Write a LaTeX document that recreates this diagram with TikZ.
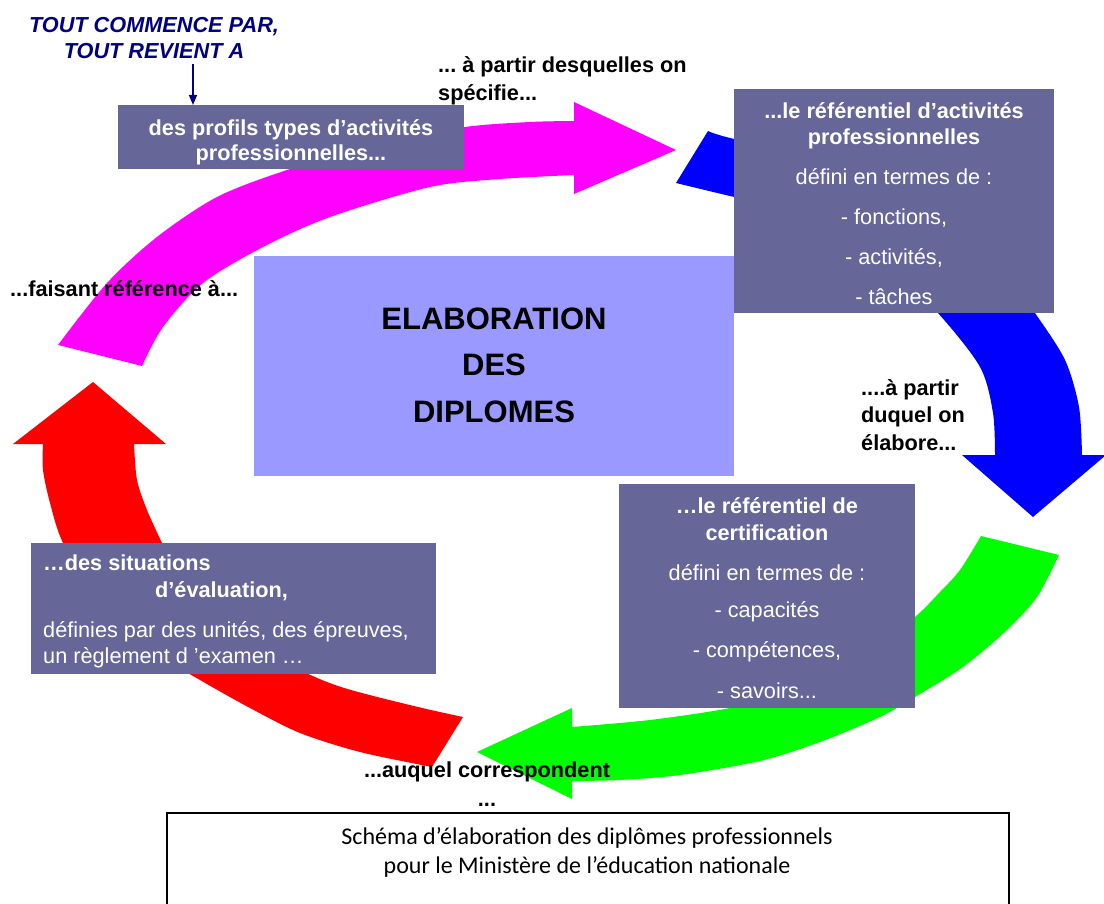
\documentclass[tikz,border=0pt]{standalone}
\usepackage{fontspec}
\setmainfont{Liberation Sans}
\newfontfamily\capfont{Carlito}
\usetikzlibrary{arrows.meta}
\definecolor{boxc}{HTML}{666699}
\definecolor{centc}{HTML}{9999FF}
\definecolor{navyc}{HTML}{000080}
\definecolor{magc}{HTML}{FF00FF}
\definecolor{bluec}{HTML}{0000FF}
\definecolor{greenc}{HTML}{00FF00}
\definecolor{redc}{HTML}{FF0000}
\frenchspacing
\begin{document}
\begin{tikzpicture}[x=1pt,y=-1pt,
  boxfill/.style={fill=boxc, inner sep=0pt, outer sep=0pt, anchor=north west},
  boxtxt/.style={text=white, inner sep=0pt, align=center, font=\fontsize{21.7}{26}\selectfont},
  lbl/.style={inner sep=0pt, font=\bfseries\fontsize{21.7}{27.5}\selectfont},
  navyarrow/.style={draw=navyc, line width=1.5pt, -{Triangle[length=10pt,width=8pt]}},
]
\useasboundingbox (0,0) rectangle (1104,904);

% magenta arrow
\fill[magc] plot[smooth] coordinates {(58,345) (107,283) (157,237) (217,197) (287,170) (380,143) (465,127) (530,122) (574,121)}
  -- (574,102) -- (676,150) -- (574,194) --
  plot[smooth] coordinates {(574,175) (500,179) (430,187) (330,217) (263,247) (203,283) (163,327) (142,366)} -- cycle;

% blue arrow
\fill[bluec] plot[smooth] coordinates {(708,131) (730,138) (830,162) (930,207) (995,258) (1035,313) (1065,360) (1079,407) (1082,455)}
  -- (1106,455) -- (1033,517) -- (962,455) --
  plot[smooth] coordinates {(995,455) (993,413) (980,367) (938,313) (880,255) (800,212) (730,196) (676,183)} -- cycle;

% green arrow
\fill[greenc] plot[smooth] coordinates {(1059,555) (1037,597) (1007,630) (963,667) (915,697) (880,717) (820,742) (760,761) (680,775) (620,780) (572,781)}
  -- (572,799) -- (477,752) -- (572,708) --
  plot[smooth] coordinates {(572,727) (650,720) (730,708) (800,690) (860,660) (915,617) (940,592) (960,570) (981,536)} -- cycle;

% red arrow
\fill[redc] plot[smooth] coordinates {(43,444) (43,470) (50,503) (63,543) (100,610) (150,650) (200,680) (250,708) (300,733) (360,752) (432,767)}
  -- (463,717) --
  plot[smooth] coordinates {(463,717) (418,707) (351,690) (315,677) (260,650) (210,610) (175,570) (162,543) (147,510) (137,480) (134,444)}
  -- (166,444) -- (93,382) -- (13,444) -- cycle;

% boxes
\node[boxfill, minimum width=346, minimum height=64] (b1) at (118,105) {};
\node[boxfill, minimum width=320, minimum height=224] (b2) at (734,89) {};
\node[fill=centc, inner sep=0pt, outer sep=0pt, anchor=north west, minimum width=480, minimum height=220] (cbox) at (254,256) {};
\node[boxfill, minimum width=296, minimum height=224] (b3) at (619,484) {};
\node[boxfill, minimum width=405, minimum height=131] (b4) at (31,543) {};

% box texts
\node[boxtxt, font=\bfseries\fontsize{21.7}{25}\selectfont] (t1) at (291,142) {des profils types d’activités\\professionnelles...};
\node[boxtxt] (t2) at (894,204) {\textbf{...le référentiel d’activités}\\\textbf{professionnelles}\\[14pt]défini en termes de :\\[14pt]- fonctions,\\[14pt]- activités,\\[14pt]- tâches};
\node[boxtxt, font=\fontsize{21.7}{27}\selectfont] (t3) at (767,598) {\textbf{…le référentiel de}\\\textbf{certification}\\[13pt]défini en termes de :\\[10pt]- capacités\\[13pt]- compétences,\\[14pt]- savoirs...};
\node[boxtxt, align=left, anchor=west, font=\fontsize{21.7}{27}\selectfont] (t4) at (43,611) {\textbf{…des situations}\\\hspace*{112pt}\textbf{d’évaluation,}\\[13pt]définies par des unités, des épreuves,\\[-1pt]un règlement d ’examen …};
\node[inner sep=0pt, align=center, font=\bfseries\fontsize{31}{46.5}\selectfont] (ctxt) at (494,365) {ELABORATION\\DES\\DIPLOMES};

% free labels
\node[lbl, text=navyc, align=center, font=\bfseries\itshape\fontsize{21.7}{26.5}\selectfont] (tout) at (154,38) {TOUT COMMENCE PAR,\\TOUT REVIENT A};
\coordinate (tarr) at (193,64);
\draw[navyarrow] (tarr) -- (tarr |- b1.north);
\node[lbl, align=left, anchor=west] (l1) at (438,81) {... à partir desquelles on\\spécifie...};
\node[lbl, anchor=west] (l2) at (10,289) {...faisant référence à...};
\node[lbl, align=left, anchor=west] (l3) at (861,415) {....à partir\\duquel on\\élabore...};
\node[lbl, align=center, font=\bfseries\fontsize{21.7}{29}\selectfont] (l4) at (487,784) {...auquel correspondent\\...};

% caption
\node[draw=black, line width=1.5pt, inner sep=0pt, anchor=north west, minimum width=842, minimum height=150] (capbox) at (166,812) {};
\node[inner sep=0pt, align=center, font=\capfont\fontsize{24}{29}\selectfont] (cap) at (587,852) {Schéma d’élaboration des diplômes professionnels\\pour le Ministère de l’éducation nationale};
\end{tikzpicture}
\end{document}
